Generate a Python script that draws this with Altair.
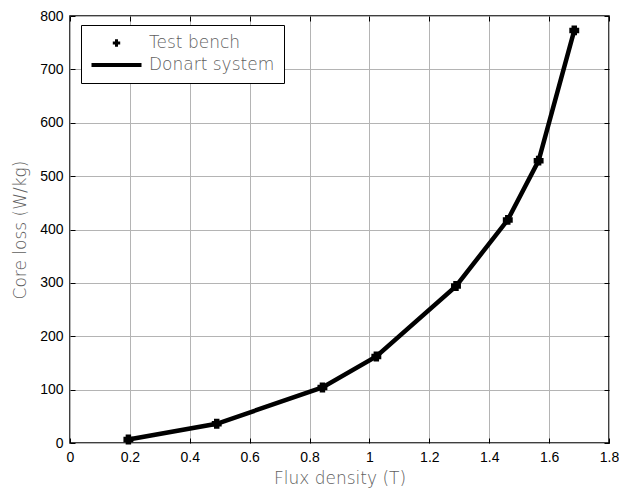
import altair as alt
import pandas as pd

flux = [0.195, 0.49, 0.843, 1.023, 1.289, 1.462, 1.565, 1.684]
loss = [6.5, 36, 104, 162, 294, 418, 529, 773]
series_names = ["Test bench", "Donart system"]
x_ticks = [0, 0.2, 0.4, 0.6, 0.8, 1.0, 1.2, 1.4, 1.6, 1.8]
y_ticks = [0, 100, 200, 300, 400, 500, 600, 700, 800]

df = pd.DataFrame({"flux": flux, "loss": loss, "series": series_names[0]})

title_font = "DejaVu Sans"
tick_font = "Liberation Sans"
gray = "#606060"

# legend glyph for the line series: a thin horizontal bar
line_glyph = "M-1,-0.08H1V0.08H-1Z"

xs = alt.Scale(domain=[0, 1.8], nice=False, zero=False)
ys = alt.Scale(domain=[0, 800], nice=False, zero=False)

base = alt.Chart(df)

main_x = alt.X("flux:Q", scale=xs, title="Flux density (T)",
               axis=alt.Axis(values=x_ticks, format="~g", ticks=False, grid=True,
                             gridColor="#b4b4b4", gridWidth=1, domain=False,
                             labelFont=tick_font, labelFontSize=14, labelColor="black",
                             labelPadding=7, titleFont=title_font, titleFontWeight=200,
                             titleFontSize=17, titleColor=gray, titlePadding=6,
                             labelFlush=False))
main_y = alt.Y("loss:Q", scale=ys, title="Core loss (W/kg)",
               axis=alt.Axis(values=y_ticks, ticks=False, grid=True,
                             gridColor="#b4b4b4", gridWidth=1, domain=False,
                             labelFont=tick_font, labelFontSize=14, labelColor="black",
                             labelPadding=7, titleFont=title_font, titleFontWeight=200,
                             titleFontSize=17, titleColor=gray, titlePadding=10,
                             labelFlush=False))

line = base.mark_line(color="black", strokeWidth=4.5).encode(x=main_x, y=main_y)

legend_props = dict(
    title=None, orient="none", legendX=11, legendY=9, direction="vertical",
    fillColor="white", strokeColor="black", padding=9,
    labelFont=title_font, labelFontWeight=200, labelFontSize=17, labelColor=gray,
    labelOffset=6, rowPadding=4, clipHeight=18,
    symbolFillColor="black", symbolStrokeColor="black", symbolStrokeWidth=2.5,
    symbolOpacity=1,
)

points = base.mark_point(filled=True, color="black", stroke="black", strokeWidth=2.5,
                         opacity=1).encode(
    x=alt.X("flux:Q", scale=xs, axis=None),
    y=alt.Y("loss:Q", scale=ys, axis=None),
    shape=alt.Shape("series:N", scale=alt.Scale(domain=series_names, range=["cross", line_glyph]),
                    legend=alt.Legend(**legend_props)),
    size=alt.Size("series:N", scale=alt.Scale(domain=series_names, range=[55, 2500]),
                  legend=alt.Legend(**legend_props)),
)


def tick_axis(orient, vals):
    return alt.Axis(orient=orient, values=vals, ticks=True, tickSize=5, tickColor="black",
                    tickWidth=1, labels=False, grid=False, domain=False, title=None,
                    offset=-5)


ticks_bl = base.mark_point(opacity=0).encode(
    x=alt.X("flux:Q", scale=xs, axis=tick_axis("bottom", x_ticks)),
    y=alt.Y("loss:Q", scale=ys, axis=tick_axis("left", y_ticks)),
)
ticks_tr = base.mark_point(opacity=0).encode(
    x=alt.X("flux:Q", scale=xs, axis=tick_axis("top", x_ticks)),
    y=alt.Y("loss:Q", scale=ys, axis=tick_axis("right", y_ticks)),
)

chart = alt.layer(line, points, ticks_bl, ticks_tr).resolve_axis(
    x="independent", y="independent"
).properties(
    width=539, height=427,
    padding={"left": 70, "top": 16, "right": 10, "bottom": 48},
    autosize="none",
).configure_view(
    stroke="black", strokeWidth=1.5
)

chart.save("out.html", embed_options={"renderer": "svg", "actions": False})
